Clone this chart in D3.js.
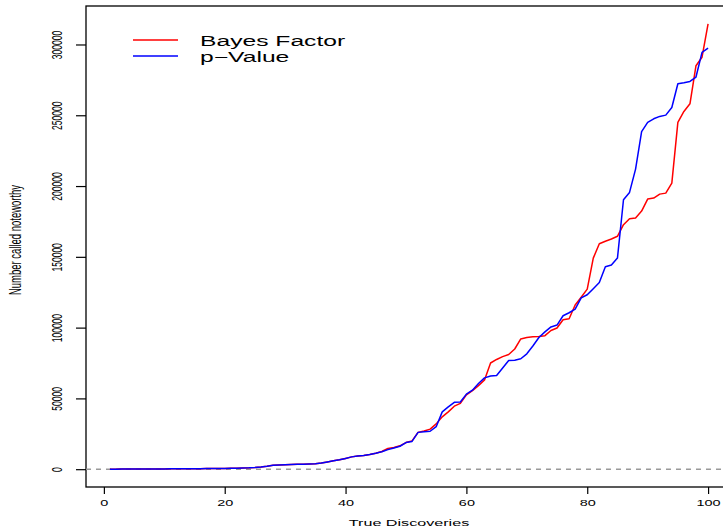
<!DOCTYPE html>
<html>
<head>
<meta charset="utf-8">
<script src="https://cdn.jsdelivr.net/npm/d3@7"></script>
<style>
  body { margin: 0; background: #fff; }
  svg text { font-family: "Liberation Sans", Arial, Helvetica, sans-serif; fill: #000; }
</style>
</head>
<body>
<svg id="chart" width="723" height="531" viewBox="0 0 723 531"></svg>
<script>
// true discoveries on the x axis
const discoveries = d3.range(1, 101)

const bayesFactor = [
  30, 40, 50, 60, 80, 100, 120, 150, 180, 200,
  230, 260, 290, 320, 350, 380, 420, 460, 500, 550,
  620, 700, 800, 950, 1200, 1600, 2100, 2700, 3000, 3200,
  3300, 3400, 3550, 3700, 3900, 4300, 5100, 5900, 6600, 7600,
  8700, 9300, 9700, 10400, 11300, 12500, 14600, 15300, 16500, 18800,
  20000, 26000, 27000, 28300, 32000, 37000, 40500, 44500, 46500, 52500,
  55500, 59000, 63000, 75000, 77500, 79500, 81000, 84900, 92000, 93000,
  93500, 93800, 94300, 98000, 99700, 105600, 106300, 116000, 121500, 127200,
  149100, 159200, 161000, 162600, 164500, 172700, 176900, 177400, 182300, 190800,
  191500, 194300, 195000, 202100, 245000, 252700, 258100, 285000, 291000, 314600
]

const pValue = [
  30, 40, 50, 60, 80, 100, 120, 150, 180, 200,
  230, 260, 290, 320, 350, 380, 420, 460, 500, 550,
  620, 700, 800, 950, 1200, 1600, 2100, 2700, 3000, 3200,
  3300, 3400, 3550, 3700, 3900, 4300, 5100, 5900, 6600, 7600,
  8700, 9300, 9700, 10400, 11300, 12300, 13800, 15000, 16200, 18800,
  19600, 26000, 26500, 26800, 30000, 40500, 44000, 47200, 47500, 53000,
  55800, 60500, 64500, 65800, 66200, 71500, 76800, 77000, 78000, 81500,
  87000, 93000, 97000, 100500, 101800, 108400, 110500, 113100, 121000, 123200,
  127500, 131900, 143000, 144200, 149100, 190300, 195500, 212000, 238500, 245000,
  247500, 249200, 250100, 255500, 272300, 273000, 273900, 277000, 294400, 297400
]

const xTicks = [0, 20, 40, 60, 80, 100]
const yTicks = [0, 50000, 100000, 150000, 200000, 250000, 300000]
const seriesNames = ["Bayes Factor", "p\u2212Value"]
const seriesColors = ["#ff0000", "#0000ff"]

const svg = d3.select("#chart")
const stretch = 1.7   // picture is stretched sideways, so the text is too

// R style 4% padding on both ranges
function padded(ext) {
  const p = (ext[1] - ext[0]) * 0.04
  return [ext[0] - p, ext[1] + p]
}
const allValues = bayesFactor.concat(pValue, [0])

const x = d3.scaleLinear()
  .domain(padded(d3.extent(discoveries)))
  .range([86, 732])
const y = d3.scaleLinear()
  .domain(padded(d3.extent(allValues)))
  .range([487, 6])

// box (right side falls outside the picture)
svg.append("rect")
  .attr("x", x.range()[0]).attr("y", y.range()[1])
  .attr("width", x.range()[1] - x.range()[0])
  .attr("height", y.range()[0] - y.range()[1])
  .attr("fill", "none").attr("stroke", "#000").attr("stroke-width", 1.3)

// zero line
svg.append("line")
  .attr("x1", x.range()[0]).attr("x2", x.range()[1])
  .attr("y1", y(0)).attr("y2", y(0))
  .attr("stroke", "#999").attr("stroke-width", 1.5)
  .attr("stroke-dasharray", "5,5")

// x axis
const xAxis = svg.append("g")
  .attr("transform", `translate(0,${y.range()[0]})`)
  .call(d3.axisBottom(x).tickValues(xTicks).tickSize(7).tickFormat(d3.format("d")))
xAxis.select(".domain").remove()
xAxis.selectAll("line").attr("stroke", "#000").attr("stroke-width", 1.2)
xAxis.selectAll("text").remove()
xAxis.selectAll(".tick").append("text")
  .attr("transform", `translate(0,19) scale(${stretch},1)`)
  .attr("text-anchor", "middle")
  .attr("font-size", 8.5)
  .text(d => d)

// y axis
const yAxis = svg.append("g")
  .attr("transform", `translate(${x.range()[0]},0)`)
  .call(d3.axisLeft(y).tickValues(yTicks).tickSize(10))
yAxis.select(".domain").remove()
yAxis.selectAll("line").attr("stroke", "#000").attr("stroke-width", 1.2)
yAxis.selectAll("text").remove()
yAxis.selectAll(".tick").append("text")
  .attr("transform", `translate(-24,0) rotate(-90) scale(1,${stretch})`)
  .attr("text-anchor", "middle")
  .attr("font-size", 8.5)
  .text(d => d)

// axis titles
svg.append("text")
  .attr("transform", `translate(409,526) scale(${stretch},1)`)
  .attr("text-anchor", "middle")
  .attr("font-size", 9.5)
  .text("True Discoveries")
svg.append("text")
  .attr("transform", `translate(21,240) rotate(-90) scale(1,${stretch})`)
  .attr("text-anchor", "middle")
  .attr("font-size", 9.5)
  .text("Number called noteworthy")

// the two curves
const line = d3.line()
  .x((d, i) => x(discoveries[i]))
  .y(d => y(d))
const series = [bayesFactor, pValue]
svg.append("g")
  .selectAll("path")
  .data(series)
  .enter()
  .append("path")
  .attr("d", d => line(d))
  .attr("fill", "none")
  .attr("stroke", (d, i) => seriesColors[i])
  .attr("stroke-width", 1.5)
  .attr("stroke-linejoin", "round")

// legend
const legend = svg.append("g")
  .selectAll("g")
  .data(seriesNames)
  .enter()
  .append("g")
  .attr("transform", (d, i) => `translate(0,${40 + i * 16})`)
legend.append("line")
  .attr("x1", 133).attr("x2", 178)
  .attr("stroke", (d, i) => seriesColors[i])
  .attr("stroke-width", 1.5)
legend.append("text")
  .attr("transform", `translate(200,5.5) scale(${stretch},1)`)
  .attr("font-size", 14.5)
  .text(d => d)
</script>
</body>
</html>
